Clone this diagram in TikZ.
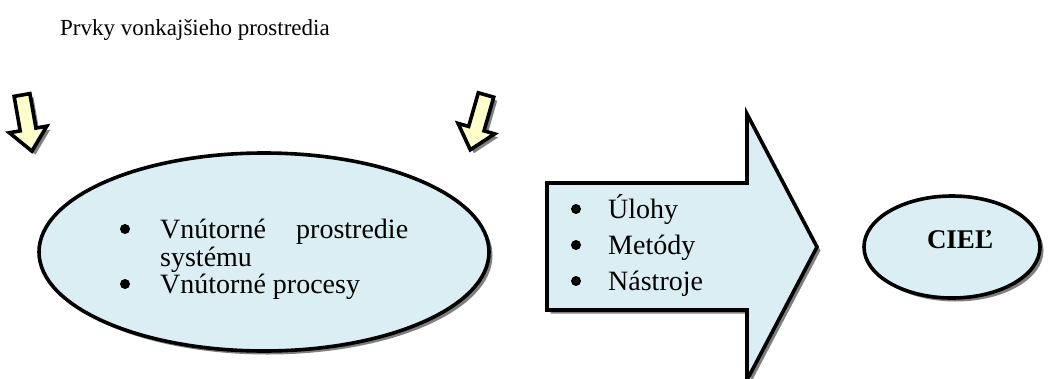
\documentclass[tikz,border=0pt]{standalone}
\usepackage{fontspec}
\setmainfont{Liberation Serif}
\usetikzlibrary{shapes.geometric}
\definecolor{paleblue}{HTML}{DAEEF3}
\definecolor{paleyellow}{HTML}{FFFFCC}
\definecolor{shadowgray}{HTML}{7F7F7F}

\begin{document}
\begin{tikzpicture}[x=1pt,y=-1pt,
    shadowed/.style={preaction={fill=shadowgray,transform canvas={shift={(3.5pt,-3.5pt)}}}},
    blob/.style={ellipse,draw,line width=3.6pt,fill=paleblue,inner sep=0pt,shadowed},
    bigarrow/.style={draw,line width=3.6pt,fill=paleblue,line join=miter,shadowed},
    inarrow/.style={draw,line width=3.6pt,fill=paleyellow,line join=miter,shadowed},
    txt/.style={anchor=base west,inner sep=0pt,font=\fontsize{28}{32}\selectfont}]
  \useasboundingbox (0,0) rectangle (1052,378);

  % Title
  \node[anchor=base west,inner sep=0pt,font=\fontsize{23}{27}\selectfont] (title) at (60,35) {Prvky vonkajšieho prostredia};

  % Incoming arrows
  \begin{scope}[shift={(22,95)},rotate=10]
    \draw[inarrow] (-8,0) -- (8,0) -- (8,35) -- (19,35) -- (0,57) -- (-19,35) -- (-8,35) -- cycle;
  \end{scope}
  \begin{scope}[shift={(486,95)},rotate=-16]
    \draw[inarrow] (-8,0) -- (8,0) -- (8,35) -- (19,35) -- (0,57) -- (-19,35) -- (-8,35) -- cycle;
  \end{scope}

  % Inner environment
  \node[blob,minimum width=450,minimum height=198] (inner) at (264,252) {};
  \node[txt] (inner1) at (160,238) {\makebox[248pt][s]{Vnútorné prostredie}};
  \node[txt] (inner2) at (160,266) {systému};
  \node[txt] (inner3) at (160,293) {Vnútorné procesy};
  \foreach \y in {238,293}
    \fill (125,\y-9) circle (5);

  % Big arrow
  \draw[bigarrow] (547,183) -- (747,183) -- (747,114) -- (817,247) -- (747,380) -- (747,310) -- (547,310) -- cycle;
  \node[txt] (task1) at (608,218) {Úlohy};
  \node[txt] (task2) at (608,254) {Metódy};
  \node[txt] (task3) at (608,290) {Nástroje};
  \foreach \y in {218,254,290}
    \fill (576,\y-9) circle (5);

  % Goal
  \node[blob,minimum width=176,minimum height=102] (goal) at (952,247) {};
  \node[font=\fontsize{27}{30}\selectfont\bfseries] (goaltext) at (960,240) {CIEĽ};
\end{tikzpicture}
\end{document}
